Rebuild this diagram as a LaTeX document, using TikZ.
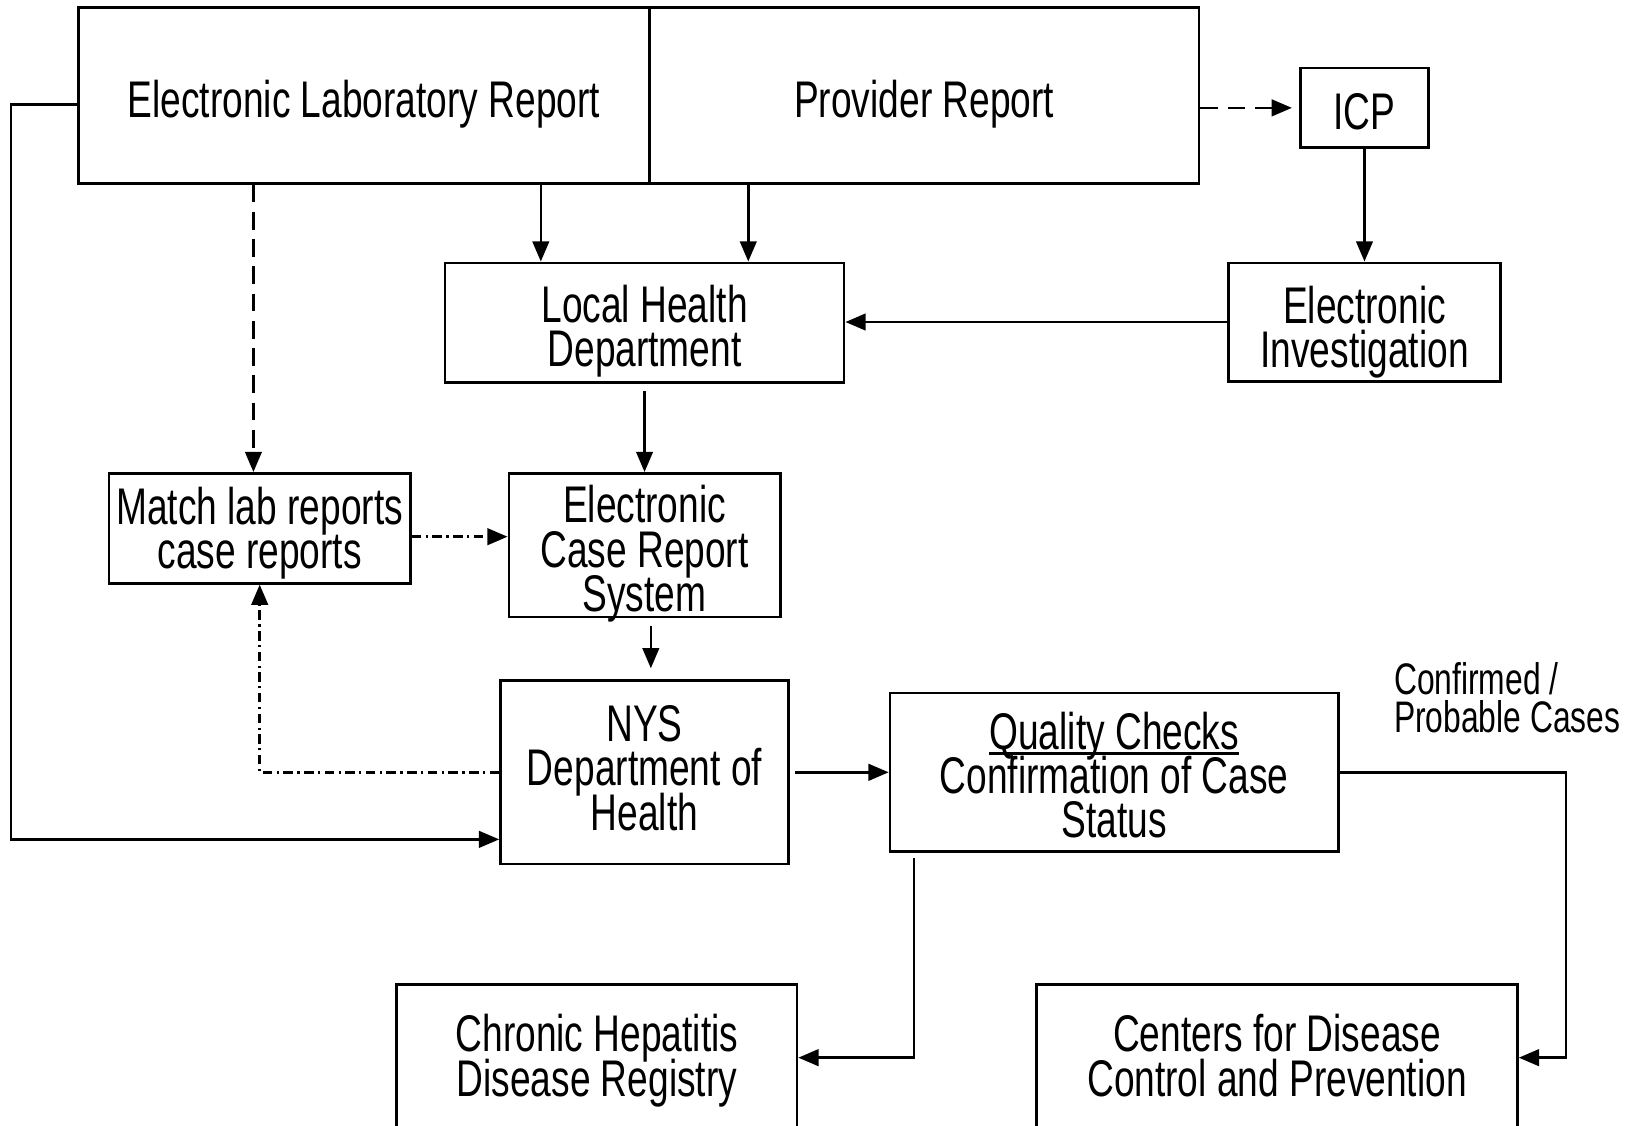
\documentclass[tikz,border=0pt]{standalone}
\usepackage{fontspec}
\setmainfont{Liberation Sans}[FakeStretch=0.72]
\usetikzlibrary{arrows.meta}
\newcommand\boxfont{\fontsize{14}{12}\selectfont\lineskiplimit=-20pt\relax}
\newcommand\conffont{\fontsize{12}{10.24}\selectfont\lineskiplimit=-20pt\relax}
\newcommand\ulinetext[1]{\setbox0\hbox{#1}\rlap{\rule[-1.6pt]{\wd0}{0.8pt}}\box0}

\begin{document}
\begin{tikzpicture}[x=0.01cm, y=-0.01cm, line width=0.7pt, >={Triangle[length=5.5pt,width=4.5pt]}]
    \tikzstyle{box}=[draw, rectangle, align=center, inner xsep=2pt, inner ysep=0pt, font=\boxfont, text height=12pt, text depth=0pt]
    \tikzstyle{dashline}=[dash pattern=on 4.8pt off 2.6pt]
    \tikzstyle{dashdotline}=[dash pattern=on 2.6pt off 1.2pt on 0.6pt off 1.2pt]
    \useasboundingbox (0,0) rectangle (1568,1075);
    \clip (0,0) rectangle (1568,1075);
    \node[box, minimum width=5.45cm, minimum height=1.68cm] (elr) at (347.5,91) {Electronic Laboratory Report};
    \node[box, minimum width=5.25cm, minimum height=1.68cm] (prov) at (882.5,91) {Provider Report};
    \node[box, minimum width=1.22cm, minimum height=0.76cm] (icp) at (1303,103) {ICP};
    \node[box, text height=24pt, minimum width=3.81cm, minimum height=1.14cm] (lhd) at (615.5,308) {Local Health\\Department};
    \node[box, text height=24.6pt, minimum width=2.60cm, minimum height=1.13cm] (ei) at (1303,307.5) {Electronic\\Investigation};
    \node[box, text height=22pt, minimum width=2.88cm, minimum height=1.05cm] (match) at (248,504.5) {Match lab reports\\case reports};
    \node[box, text height=36pt, minimum width=2.59cm, minimum height=1.37cm] (ecrs) at (615.5,520.5) {Electronic\\Case Report\\System};
    \node[box, text height=31.4pt, minimum width=2.75cm, minimum height=1.75cm] (nys) at (615.5,737.5) {NYS\\Department of\\Health};
    \node[box, text height=35.4pt, minimum width=4.28cm, minimum height=1.51cm] (qc) at (1064,737.5) {\ulinetext{Quality Checks}\\Confirmation of Case\\Status};
    \node[box, text height=20.9pt, minimum width=3.82cm, minimum height=1.40cm] (chr) at (570,1010) {Chronic Hepatitis\\Disease Registry};
    \node[box, text height=20.9pt, minimum width=4.59cm, minimum height=1.40cm] (cdc) at (1219.5,1010) {Centers for Disease\\Control and Prevention};
    \node[anchor=west, align=left, inner sep=0pt, font=\conffont] (conf) at (1330,666) {Confirmed /\\Probable Cases};
    \coordinate (l1) at ([xshift=-0.99cm]lhd.north);
    \coordinate (l2) at ([xshift=0.99cm]lhd.north);
    \coordinate (e1) at ([yshift=-0.09cm]elr.west);
    \coordinate (n1) at ([yshift=-0.64cm]nys.west);
    \coordinate (m1) at ([yshift=-0.08cm]match.east);
    \coordinate (m2) at ([xshift=-0.06cm]match.north);
    \coordinate (c1) at ([xshift=0.06cm]ecrs.south);
    \coordinate (q1) at ([xshift=0.24cm]qc.south west);
    \draw[->] (e1) -- ++(-63,0) |- (n1);
    \draw[->, dashline, shorten >=2pt] (prov.east |- icp.west) -- (icp.west);
    \draw[->] (l1 |- elr.south) -- (l1);
    \draw[->] (l2 |- elr.south) -- (l2);
    \draw[->] (icp) -- (ei);
    \draw[->] (ei.west) -- (ei.west -| lhd.east);
    \draw[->, shorten <=2pt] (lhd) -- (ecrs);
    \draw[->, dashline] (m2 |- elr.south) -- (m2);
    \draw[->, dashdotline] (m1) -- (m1 -| ecrs.west);
    \draw[->, shorten <=2pt, shorten >=3pt] (c1) -- (c1 |- nys.north);
    \draw[->, dashdotline] (nys.west) -| (match.south);
    \draw[->, shorten <=1.5pt] (nys.east) -- (qc.west);
    \draw[->] (qc.east) -- ++(216,0) |- (cdc.east);
    \draw[->, shorten <=1.5pt] (q1) |- (chr.east);
\end{tikzpicture}
\end{document}
